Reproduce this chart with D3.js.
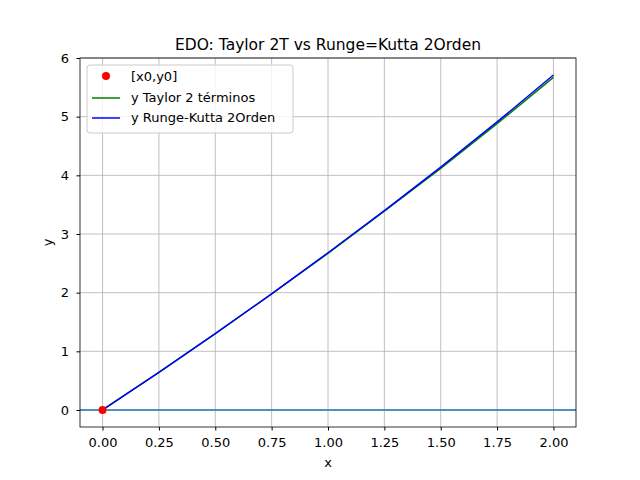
<!DOCTYPE html>
<html><head><meta charset="utf-8">
<script src="https://cdn.jsdelivr.net/npm/d3@7"></script>
<style>body{margin:0;background:#fff}text{font-family:"DejaVu Sans",sans-serif}</style>
</head><body><svg id="c" width="640" height="480"></svg>
<script>
const xs = [0,0.25,0.5,0.75,1,1.25,1.5,1.75,2];
const yTaylor = [0,0.64,1.30,1.98,2.67,3.39,4.12,4.88,5.67];
const yRK = [0,0.64,1.30,1.98,2.68,3.40,4.14,4.91,5.71];
const xTicks = [0,0.25,0.5,0.75,1,1.25,1.5,1.75,2];
const yTicks = [0,1,2,3,4,5,6];
const point = [0,0];
const title = "EDO: Taylor 2T vs Runge=Kutta 2Orden";
const labels = ["[x0,y0]","y Taylor 2 términos","y Runge-Kutta 2Orden"];

const svg = d3.select("#c");
const L=80,R=576,T=58,B=427;
const x = d3.scaleLinear().domain([-0.1,2.1]).range([L,R]);
const y = d3.scaleLinear().domain([-0.29,6]).range([B,T]);
const g = svg.append("g");
g.selectAll(".gx").data(xTicks).enter().append("line").attr("x1",d=>x(d)).attr("x2",d=>x(d)).attr("y1",T).attr("y2",B).attr("stroke","#b0b0b0").attr("stroke-width",0.8);
g.selectAll(".gy").data(yTicks).enter().append("line").attr("y1",d=>y(d)).attr("y2",d=>y(d)).attr("x1",L).attr("x2",R).attr("stroke","#b0b0b0").attr("stroke-width",0.8);
g.append("line").attr("x1",L).attr("x2",R).attr("y1",y(0)).attr("y2",y(0)).attr("stroke","#1f77b4").attr("stroke-width",1.5);
const line = d3.line().x((d,i)=>x(xs[i])).y(d=>y(d));
g.append("path").datum(yTaylor).attr("d",line).attr("fill","none").attr("stroke","green").attr("stroke-width",1.5);
g.append("path").datum(yRK).attr("d",line).attr("fill","none").attr("stroke","blue").attr("stroke-width",1.5);
g.append("circle").attr("cx",x(point[0])).attr("cy",y(point[1])).attr("r",4).attr("fill","red");
svg.append("g").attr("transform",`translate(0,${B})`).call(d3.axisBottom(x).tickValues(xTicks).tickFormat(d3.format(".2f")).tickSizeOuter(0).tickPadding(5)).call(a=>{a.select(".domain").remove();a.selectAll("text").attr("font-size",13).attr("fill","#000").attr("font-family","DejaVu Sans");a.selectAll("line").attr("stroke","#000").attr("y2",3.5);});
svg.append("g").attr("transform",`translate(${L},0)`).call(d3.axisLeft(y).tickValues(yTicks).tickFormat(d3.format("d")).tickSizeOuter(0).tickPadding(5)).call(a=>{a.select(".domain").remove();a.selectAll("text").attr("font-size",13).attr("fill","#000").attr("font-family","DejaVu Sans");a.selectAll("line").attr("stroke","#000").attr("x2",-3.5);});
svg.append("rect").attr("x",L).attr("y",T).attr("width",R-L).attr("height",B-T).attr("fill","none").attr("stroke","#000").attr("stroke-width",0.8);
svg.append("text").attr("x",(L+R)/2).attr("y",T-8).attr("text-anchor","middle").attr("font-size",15.5).text(title);
svg.append("text").attr("x",(L+R)/2).attr("y",467).attr("text-anchor","middle").attr("font-size",13).text("x");
svg.append("text").attr("transform",`translate(52,${(T+B)/2}) rotate(-90)`).attr("text-anchor","middle").attr("font-size",13).text("y");
const lg = svg.append("g");
lg.append("rect").attr("x",87).attr("y",65).attr("width",206).attr("height",68).attr("rx",3).attr("fill","#fff").attr("fill-opacity",0.8).attr("stroke","#ccc");
lg.append("circle").attr("cx",106).attr("cy",76).attr("r",4).attr("fill","red");
lg.append("line").attr("x1",92).attr("x2",120).attr("y1",98).attr("y2",98).attr("stroke","green").attr("stroke-width",1.5);
lg.append("line").attr("x1",92).attr("x2",120).attr("y1",118).attr("y2",118).attr("stroke","blue").attr("stroke-width",1.5);
labels.forEach((t,i)=>lg.append("text").attr("x",131).attr("y",81+i*20.5).attr("font-size",13).text(t));
</script></body></html>
